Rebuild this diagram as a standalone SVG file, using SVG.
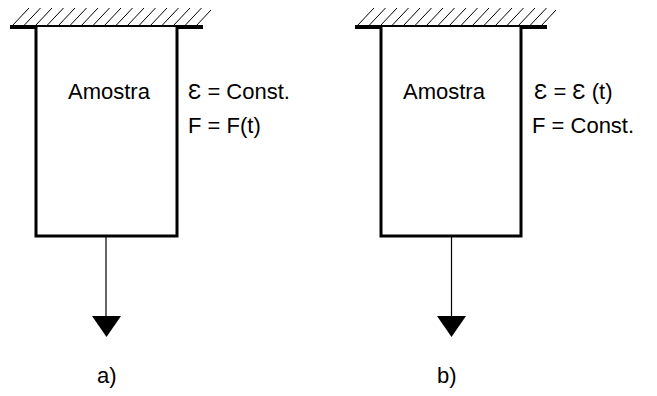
<svg xmlns="http://www.w3.org/2000/svg" width="657" height="396" viewBox="0 0 657 396">
<style>
.t{font-family:"Liberation Sans",Arial,sans-serif;font-size:22px;fill:#000}
.gnd{stroke:#000;stroke-width:4;fill:none}
.hatch{stroke:#000;stroke-width:1;fill:none}
.box{stroke:#000;stroke-width:3;fill:#fff}
.rod{stroke:#000;stroke-width:1.2;fill:none}
.head{fill:#000}
</style>
<defs>
<g id="hatchL">
<path class="hatch" d="M12,26 l17,-18 M23.5,26 l17,-18 M35,26 l17,-18 M46.5,26 l17,-18 M58,26 l17,-18 M69.5,26 l17,-18 M81,26 l17,-18 M92.5,26 l17,-18 M104,26 l17,-18 M115.5,26 l17,-18 M127,26 l17,-18 M138.5,26 l17,-18 M150,26 l17,-18 M161.5,26 l17,-18 M173,26 l17,-18 M184.5,26 l17,-18 M196,26 l15,-16"/>
</g>
</defs>
<g id="support-a">
<use href="#hatchL"/>
<line class="gnd" x1="10" y1="27" x2="203" y2="27"/>
</g>
<g id="sample-a">
<path class="box" d="M36,27 V236 H177 V27"/>
<text class="t" x="68" y="99">Amostra</text>
</g>
<g id="label-a">
<text class="t" x="188" y="99">Ɛ = Const.</text>
<text class="t" x="188" y="133">F = F(t)</text>
<text class="t" x="97" y="383">a)</text>
</g>
<g id="support-b">
<use href="#hatchL" transform="translate(345,0)"/>
<line class="gnd" x1="355" y1="27" x2="547" y2="27"/>
</g>
<g id="sample-b">
<path class="box" d="M381,27 V236 H521 V27"/>
<text class="t" x="403" y="99">Amostra</text>
</g>
<g id="label-b">
<text class="t" x="534" y="99">Ɛ = Ɛ (t)</text>
<text class="t" x="532" y="133">F = Const.</text>
<text class="t" x="437" y="383">b)</text>
</g>
<g id="connectors">
<line class="rod" x1="106" y1="237" x2="106" y2="318"/>
<polygon class="head" points="92,316 121,316 106.5,337"/>
<line class="rod" x1="451.5" y1="237" x2="451.5" y2="318"/>
<polygon class="head" points="437,316 466,316 451.5,337"/>
</g>
</svg>
